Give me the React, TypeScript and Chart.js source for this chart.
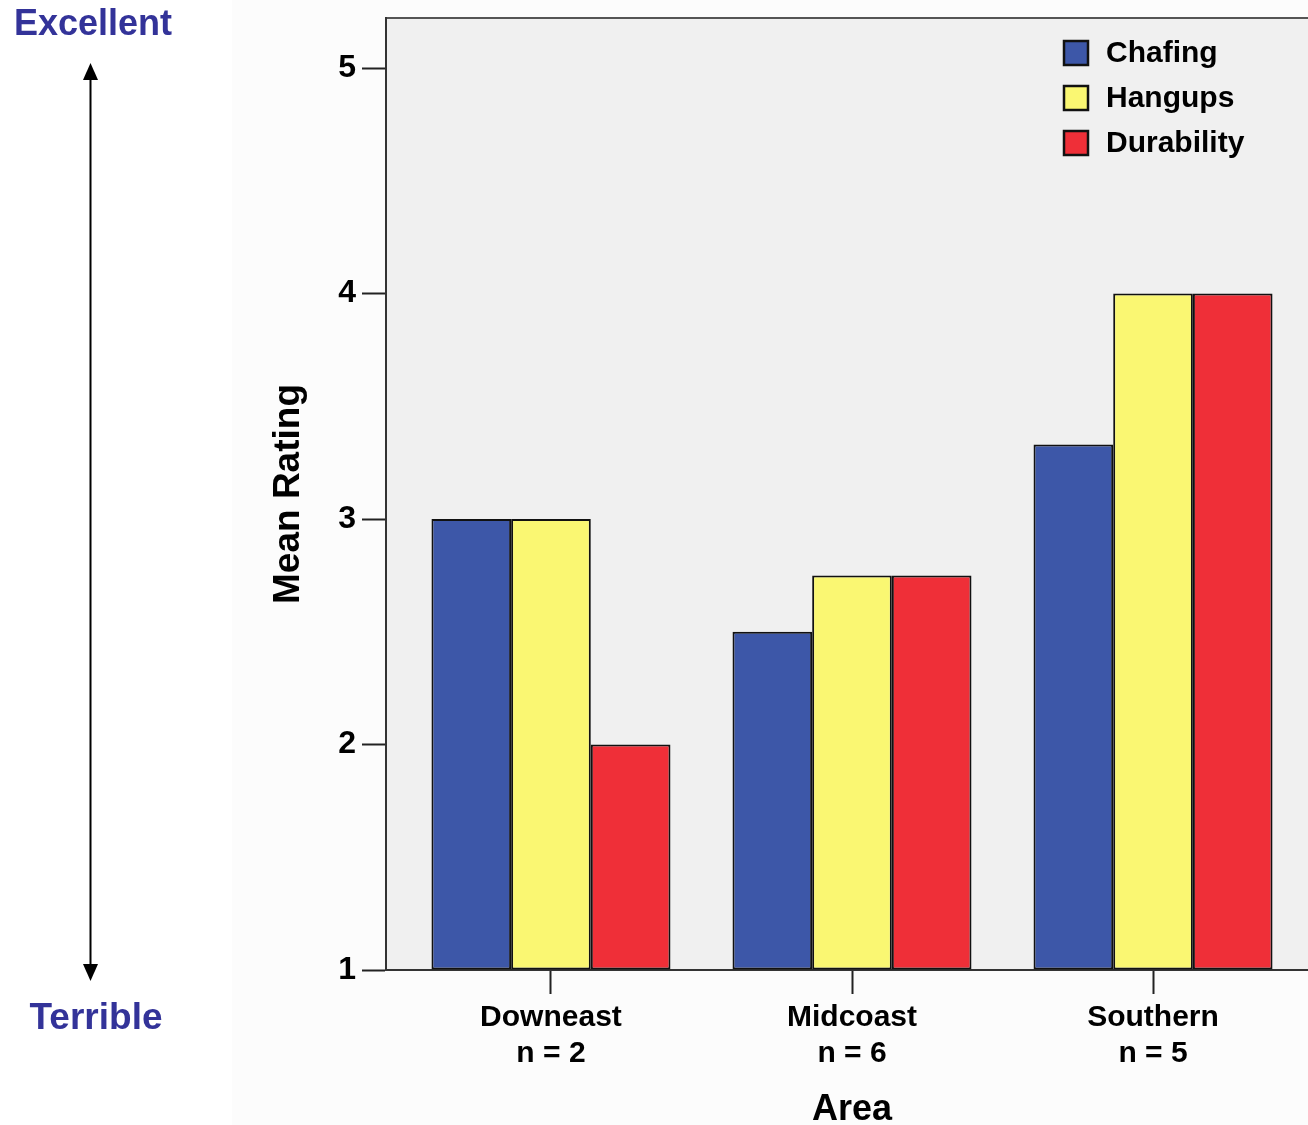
import { useEffect, useRef } from "react";
import { Chart, registerables } from "chart.js";

Chart.register(...registerables);

// Rating survey: mean rating per area, three attributes
const areas = ["Downeast", "Midcoast", "Southern"];
const sampleSizes = [2, 6, 5];
const seriesNames = ["Chafing", "Hangups", "Durability"];
const chafing = [3, 2.5, 3.33];
const hangups = [3, 2.75, 4];
const durability = [2, 2.75, 4];
const seriesColors = ["#3d57a8", "#faf772", "#ef2f38"];
const yTickValues = [1, 2, 3, 4, 5];
const scaleEnds = ["Excellent", "Terrible"];

const FONT = "'Liberation Sans', Arial, sans-serif";

const backdrop = {
  id: "backdrop",
  beforeDraw(chart: any) {
    const { ctx, chartArea: a, width, height } = chart;
    ctx.save();
    ctx.fillStyle = "#ffffff";
    ctx.fillRect(0, 0, width, height);
    ctx.fillStyle = "#fcfcfc";
    ctx.fillRect(232, 0, width - 232, height);
    ctx.fillStyle = "#f0f0f0";
    ctx.fillRect(a.left, a.top, a.right - a.left, a.bottom - a.top);
    ctx.strokeStyle = "#555555";
    ctx.lineWidth = 2;
    ctx.beginPath();
    ctx.moveTo(a.left, a.top);
    ctx.lineTo(a.right, a.top);
    ctx.stroke();
    ctx.restore();
  },
};

const decorations = {
  id: "decorations",
  afterDraw(chart: any) {
    const { ctx } = chart;
    ctx.save();

    // legend inside the plot
    ctx.font = `bold 30px ${FONT}`;
    ctx.textBaseline = "middle";
    ctx.textAlign = "left";
    chart.data.datasets.forEach((ds: any, i: number) => {
      const cy = 53 + i * 45;
      ctx.fillStyle = ds.backgroundColor;
      ctx.fillRect(1064, cy - 12, 24, 24);
      ctx.strokeStyle = "#111";
      ctx.lineWidth = 2.5;
      ctx.strokeRect(1064, cy - 12, 24, 24);
      ctx.fillStyle = "#000";
      ctx.fillText(ds.label, 1106, cy + 1);
    });

    // rating direction arrow
    ctx.strokeStyle = "#000";
    ctx.fillStyle = "#000";
    ctx.lineWidth = 2;
    ctx.beginPath();
    ctx.moveTo(90.5, 78);
    ctx.lineTo(90.5, 966);
    ctx.stroke();
    ctx.beginPath();
    ctx.moveTo(90.5, 63);
    ctx.lineTo(83, 80);
    ctx.lineTo(98, 80);
    ctx.closePath();
    ctx.fill();
    ctx.beginPath();
    ctx.moveTo(90.5, 981);
    ctx.lineTo(83, 964);
    ctx.lineTo(98, 964);
    ctx.closePath();
    ctx.fill();

    ctx.fillStyle = "#333399";
    ctx.textBaseline = "alphabetic";
    ctx.textAlign = "center";
    ctx.font = `bold 36px ${FONT}`;
    ctx.fillText(scaleEnds[0], 93, 35);
    ctx.font = `bold 37px ${FONT}`;
    ctx.fillText(scaleEnds[1], 96, 1029);
    ctx.restore();
  },
};

export default function App() {
  const ref = useRef<HTMLCanvasElement>(null);

  useEffect(() => {
    if (!ref.current) return;
    const series = [chafing, hangups, durability];
    const chart = new Chart(ref.current, {
      type: "bar",
      data: {
        datasets: series.map((vals, s) => ({
          label: seriesNames[s],
          data: vals.map((v, i) => ({ x: i, y: v })),
          backgroundColor: seriesColors[s],
          borderColor: "#111111",
          borderWidth: 2,
          borderSkipped: false,
          base: 1,
          categoryPercentage: 0.794,
          barPercentage: 1,
        })),
      },
      options: {
        responsive: false,
        animation: false,
        devicePixelRatio: 1,
        layout: { padding: { left: 232, top: 18, right: 0, bottom: 0 } },
        plugins: {
          legend: { display: false },
          tooltip: { enabled: false },
        },
        scales: {
          x: {
            type: "linear",
            min: -0.548,
            max: 2.548,
            offset: false,
            afterBuildTicks: (scale: any) => {
              scale.ticks = areas.map((_, i) => ({ value: i }));
            },
            afterFit: (scale: any) => {
              scale.height = 155;
              scale.paddingLeft = 0;
              scale.paddingRight = 0;
            },
            ticks: {
              autoSkip: false,
              maxRotation: 0,
              padding: 6,
              color: "#000",
              font: { family: FONT, size: 30, weight: "bold", lineHeight: 1.2 },
              callback: (v: any) => [areas[v], `n = ${sampleSizes[v]}`],
            },
            grid: {
              offset: false,
              drawOnChartArea: false,
              drawTicks: true,
              tickLength: 24,
              tickColor: "#222",
              tickWidth: 2,
            },
            border: { display: true, color: "#333", width: 2 },
            title: {
              display: true,
              text: "Area",
              color: "#000",
              font: { family: FONT, size: 36, weight: "bold", lineHeight: 0.85 },
              padding: 0,
            },
          },
          y: {
            type: "linear",
            min: 1,
            max: 5.222,
            afterBuildTicks: (scale: any) => {
              scale.ticks = yTickValues.map((v) => ({ value: v }));
            },
            afterFit: (scale: any) => {
              scale.width = 154;
              scale.paddingTop = 0;
              scale.paddingBottom = 0;
            },
            ticks: {
              padding: 6,
              color: "#000",
              font: { family: FONT, size: 32, weight: "bold" },
            },
            grid: {
              drawOnChartArea: false,
              drawTicks: true,
              tickLength: 24,
              tickColor: "#222",
              tickWidth: 2,
            },
            border: { display: true, color: "#333", width: 2 },
            title: {
              display: true,
              text: "Mean Rating",
              color: "#000",
              font: { family: FONT, size: 37, weight: "bold", lineHeight: 1 },
              padding: { top: 38, bottom: 0 },
            },
          },
        },
      },
      plugins: [backdrop, decorations],
    });
    return () => chart.destroy();
  }, []);

  return (
    <div
      style={{
        position: "absolute",
        left: 0,
        top: 0,
        width: 1308,
        height: 1125,
        overflow: "hidden",
      }}
    >
      <canvas ref={ref} width={1318} height={1125} style={{ display: "block" }} />
    </div>
  );
}
